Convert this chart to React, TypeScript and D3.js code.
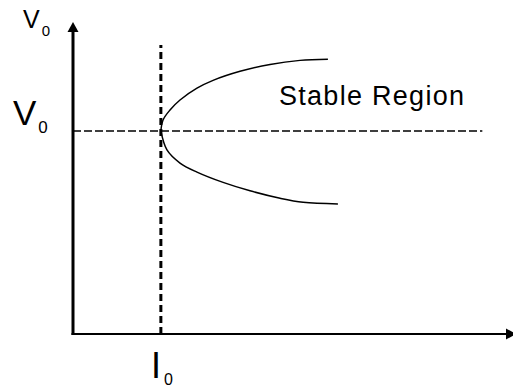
import React from "react";
import * as d3 from "d3";

// Characteristic data (abstract units: current on x, voltage on y)
const xDomain: [number, number] = [0, 100];
const yDomain: [number, number] = [0, 100];
const operatingCurrent = 20.2; // I0
const operatingVoltage = 65.1; // V0

const upperX = [20.2, 20.7, 22.3, 24.6, 28.5, 32.2, 38.4, 45.3, 52.2, 58.6];
const upperY = [65.1, 68.6, 71.8, 75.0, 78.8, 81.3, 84.2, 86.4, 87.7, 88.1];
const lowerX = [20.2, 21.6, 24.6, 28.5, 34.5, 40.7, 47.6, 52.9, 60.9];
const lowerY = [65.1, 59.0, 54.8, 51.9, 48.6, 45.9, 43.5, 42.2, 41.7];

const hLineEndX = 94.1; // end of horizontal dashed line
const vLineTopY = 92.6; // top of vertical dashed line

const regionLabel = "Stable Region";

export default function App() {
  const W = 513;
  const H = 387;
  const x = d3.scaleLinear().domain(xDomain).range([73, 508]);
  const y = d3.scaleLinear().domain(yDomain).range([334, 22]);

  const line = d3
    .line<[number, number]>()
    .x((d) => x(d[0]))
    .y((d) => y(d[1]))
    .curve(d3.curveCatmullRom.alpha(0.5));

  const upper = upperX.map((v, i) => [v, upperY[i]] as [number, number]);
  const lower = lowerX.map((v, i) => [v, lowerY[i]] as [number, number]);

  const x0 = x(0);
  const y0 = y(0);
  const yTop = y(yDomain[1]);
  const xRight = x(xDomain[1]);

  const font = "'Liberation Sans', Arial, sans-serif";

  return (
    <svg
      width={W}
      height={H}
      style={{ position: "absolute", left: 0, top: 0, background: "#fff" }}
    >
      {/* axes */}
      <line x1={x0} y1={y0 + 1} x2={x0} y2={yTop + 8} stroke="#000" strokeWidth={3} />
      <path d={`M${x0},${yTop} L${x0 - 5.5},${yTop + 10} L${x0 + 5.5},${yTop + 10} Z`} fill="#000" />
      <line x1={x0 - 1.5} y1={y0} x2={xRight} y2={y0} stroke="#000" strokeWidth={2} />
      <path d={`M${xRight + 8},${y0} L${xRight - 2},${y0 - 5.5} L${xRight - 2},${y0 + 5.5} Z`} fill="#000" />

      {/* dashed reference lines */}
      <line
        x1={x(operatingCurrent)}
        y1={y0}
        x2={x(operatingCurrent)}
        y2={y(vLineTopY)}
        stroke="#000"
        strokeWidth={3}
        strokeDasharray="7,4"
      />
      <line
        x1={x0}
        y1={y(operatingVoltage)}
        x2={x(hLineEndX)}
        y2={y(operatingVoltage)}
        stroke="#000"
        strokeWidth={1.5}
        strokeDasharray="8,3"
      />

      {/* curves */}
      <path d={line(upper) || ""} fill="none" stroke="#000" strokeWidth={1.5} />
      <path d={line(lower) || ""} fill="none" stroke="#000" strokeWidth={1.5} />

      {/* labels */}
      <text x={23} y={28} fontFamily={font} fontSize={25} fill="#000">
        V<tspan fontSize={15} dx={2} dy={8}>0</tspan>
      </text>
      <text x={13} y={125} fontFamily={font} fontSize={35} fill="#000">
        V<tspan fontSize={17} dx={2} dy={8}>0</tspan>
      </text>
      <text x={151} y={378} fontFamily={font} fontSize={36} fill="#000">
        I<tspan fontSize={16} dx={3} dy={7}>0</tspan>
      </text>
      <text x={279} y={105} fontFamily={font} fontSize={27} fill="#000" textLength={185}>
        {regionLabel}
      </text>
    </svg>
  );
}
